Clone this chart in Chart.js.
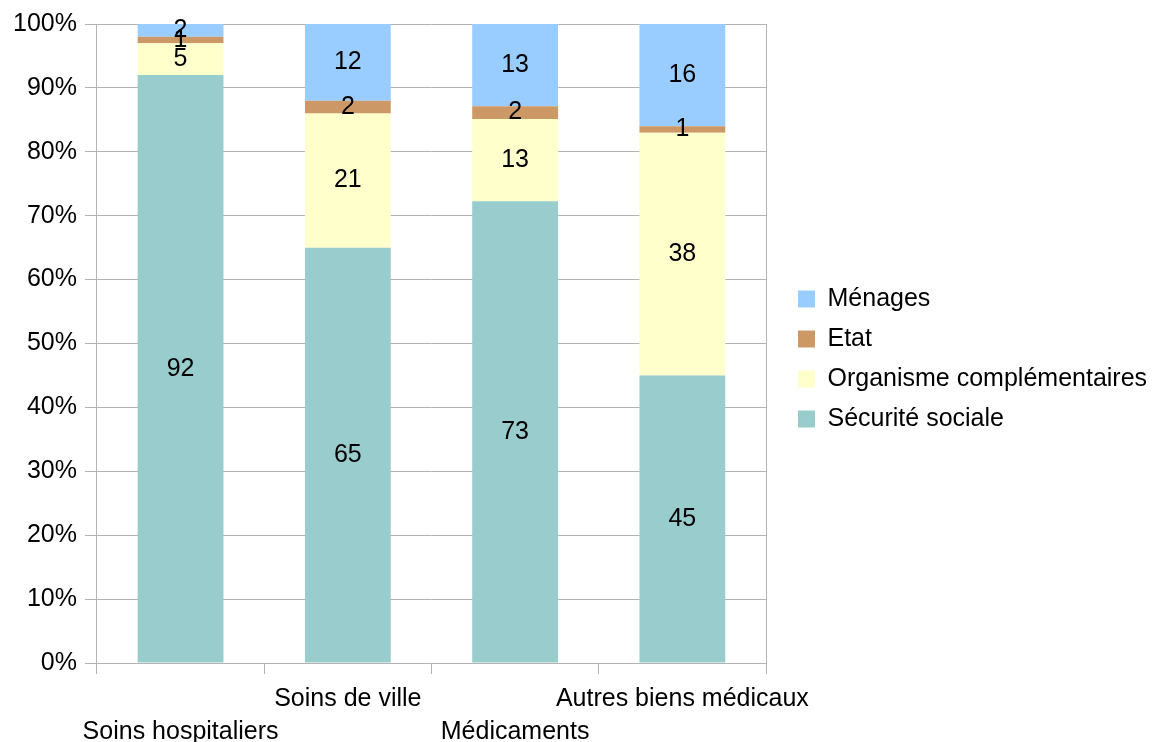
<!DOCTYPE html>
<html>
<head>
<meta charset="utf-8">
<script src="https://cdn.jsdelivr.net/npm/chart.js@4"></script>
<style>
  html, body { margin: 0; padding: 0; background: #fff; }
  #wrap { width: 1157px; height: 742px; }
</style>
</head>
<body>
<div id="wrap"><canvas id="chart"></canvas></div>
<script>
// data
const categories = ['Soins hospitaliers', 'Soins de ville', 'Médicaments', 'Autres biens médicaux']
const securiteSociale = [92, 65, 73, 45]
const organismes = [5, 21, 13, 38]
const etat = [1, 2, 2, 1]
const menages = [2, 12, 13, 16]

const gridColor = '#b3b3b3'
Chart.defaults.font.family = '"Liberation Sans", Arial, sans-serif'
Chart.defaults.font.size = 25
Chart.defaults.color = '#000'

const totals = categories.map((c, i) => securiteSociale[i] + organismes[i] + etat[i] + menages[i])
const toPct = arr => arr.map((v, i) => v / totals[i] * 100)

function makeSet(label, raw, color) {
    return {
        label: label,
        raw: raw,
        data: toPct(raw),
        yAxisID: 'y',
        backgroundColor: color,
        borderWidth: 0,
        barPercentage: 0.9,
        categoryPercentage: 0.57
    }
}

// numbers inside the segments
const valueLabels = {
    id: 'valueLabels',
    afterDatasetsDraw(chart) {
        const ctx = chart.ctx
        ctx.save()
        ctx.font = '25px "Liberation Sans", Arial, sans-serif'
        ctx.fillStyle = '#000'
        ctx.textAlign = 'center'
        ctx.textBaseline = 'middle'
        chart.data.datasets.forEach((ds, i) => {
            chart.getDatasetMeta(i).data.forEach((bar, j) => {
                const p = bar.getProps(['x', 'y', 'base'], true)
                ctx.fillText(ds.raw[j], p.x, (p.y + p.base) / 2)
            })
        })
        ctx.restore()
    }
}

// legend sits a bit higher than the middle of its box
const legendShift = {
    id: 'legendShift',
    afterLayout(chart) {
        chart.legend.top -= 24
        chart.legend.bottom -= 24
    }
}

new Chart(document.getElementById('chart'), {
    type: 'bar',
    data: {
        labels: categories,
        datasets: [
            makeSet('Sécurité sociale', securiteSociale, '#99cccc'),
            makeSet('Organisme complémentaires', organismes, '#ffffcc'),
            makeSet('Etat', etat, '#cc9966'),
            makeSet('Ménages', menages, '#99ccff')
        ]
    },
    options: {
        responsive: true,
        maintainAspectRatio: false,
        animation: false,
        layout: { padding: { left: 5, top: 24, right: 0, bottom: 0 } },
        plugins: {
            legend: {
                position: 'right',
                reverse: true,
                maxWidth: 374,
                labels: { boxWidth: 17, boxHeight: 17, padding: 15, font: { size: 25 } }
            },
            tooltip: { enabled: false }
        },
        scales: {
            x: {
                stacked: true,
                grid: {
                    offset: true,
                    color: c => c.type === 'scale' ? gridColor : 'transparent',
                    tickColor: gridColor,
                    tickLength: 11
                },
                border: { color: gridColor },
                ticks: {
                    autoSkip: false,
                    maxRotation: 0,
                    minRotation: 0,
                    padding: 9,
                    font: { size: 25, lineHeight: 1.32 },
                    callback: function (v, i) {
                        const name = categories[i]
                        return i % 2 === 0 ? ['', name] : name
                    }
                },
                afterFit: scale => { scale.height = 79 }
            },
            y: {
                stacked: true,
                min: 0,
                max: 100,
                grid: { color: gridColor, tickLength: 12 },
                border: { color: gridColor },
                ticks: {
                    stepSize: 10,
                    padding: 8,
                    callback: v => v + '%'
                }
            },
            // empty strip between plot and legend
            gap: {
                type: 'linear',
                position: 'right',
                grid: { display: false },
                border: { display: false },
                ticks: { display: false },
                afterFit: scale => { scale.width = 17 }
            }
        }
    },
    plugins: [valueLabels, legendShift]
})
</script>
</body>
</html>
